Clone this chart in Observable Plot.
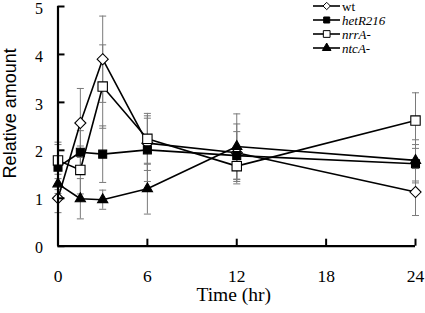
<!DOCTYPE html>
<html>
<head>
<meta charset="utf-8">
<script src="https://cdn.jsdelivr.net/npm/d3@7"></script>
<script src="https://cdn.jsdelivr.net/npm/@observablehq/plot@0.6"></script>
<style>
  html, body { margin: 0; padding: 0; background: #fff; }
  #wrap { position: relative; width: 425px; height: 313px; }
  #legend { position: absolute; left: 300px; top: 0; }
</style>
</head>
<body>
<div id="wrap"><div id="chart"></div><div id="legend"></div></div>
<script>
const time = [0, 1.5, 3, 6, 12, 24];
const wt = [1.0, 2.57, 3.9, 2.15, 1.95, 1.13];
const wtErr = [0.3, 0.72, 0.9, 0.57, 0.6, 0.49];
const hetR = [1.65, 1.96, 1.92, 2.01, 1.89, 1.72];
const hetRErr = [0.47, 0.45, 0.59, 0.66, 0.5, 0.4];
const nrrA = [1.79, 1.59, 3.33, 2.24, 1.67, 2.62];
const nrrAErr = [0.38, 0.5, 0.87, 0.53, 0.37, 0.58];
const ntcA = [1.3, 0.99, 0.97, 1.2, 2.08, 1.79];
const ntcAErr = [0.2, 0.42, 0.2, 0.53, 0.68, 0.43];
const xTicks = [0, 6, 12, 18, 24];
const yTicks = [0, 1, 2, 3, 4, 5];
const seriesNames = ["wt", "hetR216", "nrrA-", "ntcA-"];

const series = [
  {name: seriesNames[0], values: wt, err: wtErr, symbol: "diamond2", fill: "white", r: 5, lr: 3.3, italic: false},
  {name: seriesNames[1], values: hetR, err: hetRErr, symbol: "square", fill: "black", r: 4.5, lr: 3.4, italic: true},
  {name: seriesNames[2], values: nrrA, err: nrrAErr, symbol: "square", fill: "white", r: 5.3, lr: 3.8, italic: true},
  {name: seriesNames[3], values: ntcA, err: ntcAErr, symbol: "triangle", fill: "black", r: 3.8, lr: 3.2, italic: true}
];
const rows = series.flatMap(s => time.map((t, i) => ({series: s.name, t, v: s.values[i], e: s.err[i]})));

const capSymbol = {
  draw(context, size) {
    const w = Math.sqrt(size / Math.PI);
    context.moveTo(-w, 0);
    context.lineTo(w, 0);
  }
};

const W = 425, H = 313;
const mL = 57.5, mR = 10, mT = 6, mB = 67.3;
const frameW = W - mL - mR, frameH = H - mT - mB;
const errColor = "#7a7a7a";

const chart = Plot.plot({
  width: W, height: H,
  marginLeft: mL, marginRight: mR, marginTop: mT, marginBottom: mB,
  style: {fontFamily: "'Liberation Serif', serif", background: "white", color: "black"},
  x: {domain: [0, 24]},
  y: {domain: [0, 5]},
  marks: [
    Plot.ruleX(rows, {x: "t", y1: d => d.v - d.e, y2: d => d.v + d.e, stroke: errColor, strokeWidth: 1}),
    Plot.dot(rows, {x: "t", y: d => d.v + d.e, symbol: capSymbol, r: 3.5, stroke: errColor, strokeWidth: 1}),
    Plot.dot(rows, {x: "t", y: d => d.v - d.e, symbol: capSymbol, r: 3.5, stroke: errColor, strokeWidth: 1}),
    Plot.line(rows, {x: "t", y: "v", z: "series", stroke: "black", strokeWidth: 1.6}),
    ...series.map(s => Plot.dot(rows.filter(d => d.series === s.name), {
      x: "t", y: "v", symbol: s.symbol, r: s.r, fill: s.fill, stroke: "black", strokeWidth: 1.1
    })),
    Plot.ruleX([0], {stroke: "black", strokeWidth: 2.2}),
    Plot.ruleY([0], {stroke: "black", strokeWidth: 2.2}),
    Plot.tickY(yTicks, {y: d => d, insetRight: frameW - 7, stroke: "black", strokeWidth: 2}),
    Plot.tickX(xTicks, {x: d => d, insetTop: frameH - 7, stroke: "black", strokeWidth: 2}),
    Plot.axisY({ticks: yTicks, tickFormat: d3.format("d"), tickSize: 0, tickPadding: 15, label: null, fontSize: 16, dy: 2}),
    Plot.axisX({ticks: xTicks, tickFormat: d3.format("d"), tickSize: 0, tickPadding: 23, label: null, fontSize: 17.5}),
    Plot.text(["Relative amount"], {frameAnchor: "left", textAnchor: "middle", lineAnchor: "middle", rotate: -90, dx: -47.5, dy: -13,
      fontFamily: "'Liberation Sans', Arial, sans-serif", fontSize: 18, fill: "black"}),
    Plot.text(["Time (hr)"], {frameAnchor: "bottom", dy: 49, dx: -3, lineAnchor: "middle",
      fontSize: 19.5, fill: "black"})
  ]
});
document.getElementById("chart").appendChild(chart);

// Legend (drawn with d3 symbols)
const legW = 125, legH = 58;
const leg = d3.select("#legend").append("svg").attr("width", legW).attr("height", legH)
  .style("font-family", "'Liberation Serif', serif");
const symMap = {diamond2: d3.symbolDiamond2, square: d3.symbolSquare, triangle: d3.symbolTriangle};
series.forEach((s, i) => {
  const g = leg.append("g").attr("transform", `translate(0, ${6 + i * 14})`);
  g.append("line").attr("x1", 13).attr("x2", 40).attr("y1", 0).attr("y2", 0)
    .attr("stroke", "black").attr("stroke-width", 1.6);
  g.append("path").attr("transform", "translate(26.7,0)")
    .attr("d", d3.symbol(symMap[s.symbol], Math.PI * s.lr * s.lr)())
    .attr("fill", s.fill).attr("stroke", "black").attr("stroke-width", 1);
  g.append("text").attr("x", 42).attr("y", 0).attr("dy", "0.35em")
    .attr("font-size", 13).attr("font-style", s.italic ? "italic" : "normal")
    .attr("fill", "black").text(s.name);
});
</script>
</body>
</html>
